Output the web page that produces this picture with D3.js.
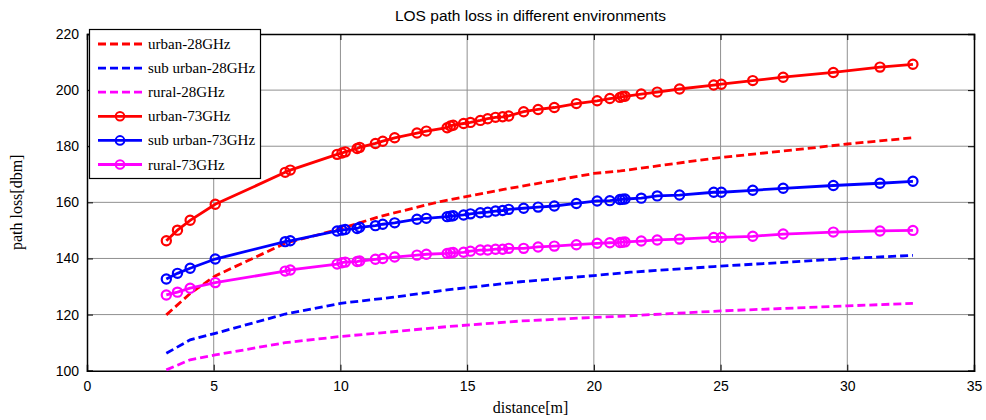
<!DOCTYPE html>
<html>
<head>
<meta charset="utf-8">
<script src="https://cdn.jsdelivr.net/npm/d3@7/dist/d3.min.js"></script>
<style>
  html, body { margin: 0; padding: 0; background: #fff; }
  svg { display: block; }
  .tick-label { font-family: "Liberation Sans Narrow", "Liberation Sans", Arial, sans-serif; font-size: 14px; fill: #000; }
  .serif { font-family: "Liberation Serif", "Times New Roman", serif; fill: #000; }
</style>
</head>
<body>
<svg id="chart" width="986" height="420"></svg>
<script>
// Distances (m) at which the 73 GHz path loss was evaluated
const distances73 = [3.13, 3.57, 4.07, 5.06, 7.82, 8.02, 9.87, 10.06, 10.19, 10.66, 10.76, 11.38, 11.67, 12.14,
  13.02, 13.39, 14.21, 14.34, 14.45, 14.86, 15.13, 15.52, 15.81, 16.12, 16.40, 16.64, 17.23, 17.80, 18.44,
  19.31, 20.13, 20.63, 21.03, 21.13, 21.23, 21.87, 22.50, 23.38, 24.73, 25.03, 26.27, 27.47, 29.45, 31.29, 32.59];

const urban73 = [146.3, 150.1, 153.6, 159.3, 170.7, 171.5, 177.1, 177.6, 178.0, 179.2, 179.6, 181.0, 181.8, 183.0,
  184.7, 185.4, 186.6, 187.2, 187.5, 188.1, 188.5, 189.2, 189.8, 190.3, 190.5, 190.8, 192.3, 193.1, 193.8,
  195.2, 196.2, 197.0, 197.4, 197.7, 197.8, 198.6, 199.3, 200.4, 201.8, 202.1, 203.4, 204.6, 206.3, 208.2, 209.2];

const suburban73 = [132.7, 134.7, 136.5, 139.8, 146.0, 146.3, 149.8, 150.1, 150.3, 150.7, 151.1, 151.7, 152.2, 152.7,
  154.0, 154.3, 154.9, 155.1, 155.2, 155.5, 155.9, 156.3, 156.5, 156.9, 157.1, 157.5, 157.9, 158.3, 158.7,
  159.6, 160.5, 160.6, 161.0, 161.1, 161.2, 161.5, 162.3, 162.6, 163.6, 163.6, 164.3, 165.0, 166.0, 166.8, 167.5];

const rural73 = [127.0, 128.0, 129.4, 131.4, 135.5, 135.9, 138.0, 138.5, 138.7, 138.9, 139.1, 139.7, 140.0, 140.5,
  141.2, 141.5, 141.8, 142.0, 142.1, 142.2, 142.6, 143.0, 143.0, 143.3, 143.3, 143.6, 143.6, 144.1, 144.4,
  144.9, 145.4, 145.6, 145.7, 145.8, 145.9, 146.2, 146.6, 146.9, 147.5, 147.5, 147.9, 148.7, 149.4, 149.8, 150.0];

// 28 GHz curves: [distance, path loss]
const urban28 = [[3.13, 119.9], [4.07, 127.5], [5.06, 133.8], [7.82, 145.4], [9.87, 150.2], [11.57, 155.0],
  [13.94, 160.3], [16.44, 164.6], [20.0, 170.3], [21.05, 171.2], [24.73, 175.7], [28.42, 179.2], [30.0, 180.8], [32.59, 183.0]];
const suburban28 = [[3.13, 106.2], [4.07, 111.0], [5.06, 113.3], [7.82, 120.2], [10.0, 124.0], [12.1, 126.2],
  [14.21, 128.8], [17.1, 131.7], [20.0, 133.9], [21.44, 135.1], [24.73, 137.1], [30.0, 140.0], [32.59, 141.1]];
const rural28 = [[3.13, 100.3], [4.07, 103.9], [5.06, 105.6], [7.82, 110.0], [10.0, 112.2], [11.5, 113.4],
  [14.21, 115.7], [17.1, 117.7], [20.0, 119.0], [21.05, 119.4], [25.0, 121.3], [30.0, 123.1], [32.59, 124.0]];

const xTicks = [0, 5, 10, 15, 20, 25, 30, 35];
const yTicks = [100, 120, 140, 160, 180, 200, 220];

const series = [
  { name: "urban-28GHz", color: "#ff0000", dashed: true, points: urban28 },
  { name: "sub urban-28GHz", color: "#0000ff", dashed: true, points: suburban28 },
  { name: "rural-28GHz", color: "#ff00ff", dashed: true, points: rural28 },
  { name: "urban-73GHz", color: "#ff0000", dashed: false, points: distances73.map((d, i) => [d, urban73[i]]) },
  { name: "sub urban-73GHz", color: "#0000ff", dashed: false, points: distances73.map((d, i) => [d, suburban73[i]]) },
  { name: "rural-73GHz", color: "#ff00ff", dashed: false, points: distances73.map((d, i) => [d, rural73[i]]) }
];

const svg = d3.select("#chart");
const m = { left: 87, right: 974, top: 34, bottom: 370.7 };
const x = d3.scaleLinear().domain([0, 35]).range([m.left, m.right]);
const y = d3.scaleLinear().domain([100, 220]).range([m.bottom, m.top]);

// grid
const grid = svg.append("g");
grid.selectAll("line.gx").data(xTicks.slice(1, -1)).join("line")
  .attr("x1", d => x(d)).attr("x2", d => x(d)).attr("y1", m.top).attr("y2", m.bottom)
  .attr("stroke", "#909090").attr("stroke-width", 1);
grid.selectAll("line.gy").data(yTicks.slice(1, -1)).join("line")
  .attr("y1", d => y(d)).attr("y2", d => y(d)).attr("x1", m.left).attr("x2", m.right)
  .attr("stroke", "#909090").attr("stroke-width", 1);

// axes with inward ticks on all four sides
const tickLen = 6;
const axB = svg.append("g").attr("transform", `translate(0,${m.bottom})`)
  .call(d3.axisBottom(x).tickValues(xTicks).tickSize(-tickLen).tickPadding(10).tickFormat(d3.format("d")));
const axT = svg.append("g").attr("transform", `translate(0,${m.top})`)
  .call(d3.axisTop(x).tickValues(xTicks).tickSize(-tickLen).tickFormat(""));
const axL = svg.append("g").attr("transform", `translate(${m.left},0)`)
  .call(d3.axisLeft(y).tickValues(yTicks).tickSize(-tickLen).tickPadding(8).tickFormat(d3.format("d")));
const axR = svg.append("g").attr("transform", `translate(${m.right},0)`)
  .call(d3.axisRight(y).tickValues(yTicks).tickSize(-tickLen).tickFormat(""));
[axB, axT, axL, axR].forEach(g => {
  g.select(".domain").attr("stroke", "#000").attr("stroke-width", 1.5);
  g.selectAll(".tick line").attr("stroke", "#000").attr("stroke-width", 1);
  g.selectAll(".tick text").attr("class", "tick-label").attr("font-family", null).attr("font-size", null);
});

// curves
const line = d3.line().x(d => x(d[0])).y(d => y(d[1]));
const plot = svg.append("g");
series.forEach(s => {
  plot.append("path").datum(s.points)
    .attr("d", line).attr("fill", "none")
    .attr("stroke", s.color).attr("stroke-width", 2.8)
    .attr("stroke-dasharray", s.dashed ? "8,4" : null);
  if (!s.dashed) {
    plot.selectAll(null).data(s.points).join("circle")
      .attr("cx", d => x(d[0])).attr("cy", d => y(d[1])).attr("r", 4.6)
      .attr("fill", "none").attr("stroke", s.color).attr("stroke-width", 2.2);
  }
});

// title and axis labels
svg.append("text").attr("x", (m.left + m.right) / 2).attr("y", 21)
  .attr("text-anchor", "middle").attr("class", "tick-label").style("font-size", "15.5px")
  .text("LOS path loss in different environments");
svg.append("text").attr("x", (m.left + m.right) / 2).attr("y", 413)
  .attr("text-anchor", "middle").attr("class", "serif").style("font-size", "16px")
  .text("distance[m]");
svg.append("text").attr("transform", `translate(22,${(m.top + m.bottom) / 2}) rotate(-90)`)
  .attr("text-anchor", "middle").attr("class", "serif").style("font-size", "16px")
  .text("path loss[dbm]");

// legend
const lg = svg.append("g");
lg.append("rect").attr("x", 89.5).attr("y", 29.5).attr("width", 171).attr("height", 149)
  .attr("fill", "#fff").attr("stroke", "#000").attr("stroke-width", 1.2);
series.forEach((s, i) => {
  const ly = 44 + i * 24.1;
  lg.append("line").attr("x1", 98).attr("x2", 142).attr("y1", ly).attr("y2", ly)
    .attr("stroke", s.color).attr("stroke-width", 2.8)
    .attr("stroke-dasharray", s.dashed ? "8,4" : null);
  if (!s.dashed) {
    lg.append("circle").attr("cx", 120).attr("cy", ly).attr("r", 4.3)
      .attr("fill", "none").attr("stroke", s.color).attr("stroke-width", 2);
  }
  lg.append("text").attr("x", 148).attr("y", ly + 5).attr("class", "serif")
    .style("font-size", "15px").text(s.name);
});
</script>
</body>
</html>
